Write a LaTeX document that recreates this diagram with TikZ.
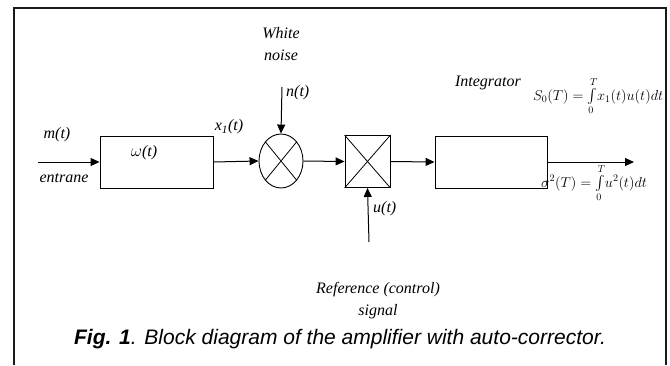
\documentclass[tikz,border=0pt]{standalone}
\usepackage{fontspec}
\setmainfont{Liberation Serif}
\newfontfamily\capfont{Liberation Sans}
\usepackage{tikz}
\usetikzlibrary{positioning, shapes.geometric, arrows.meta, calc}
\usepackage{amsmath}
\usepackage{xcolor}
\definecolor{lnblack}{HTML}{000000}
\definecolor{frgray}{HTML}{1A1A1A}

\tikzset{
  blockbox/.style={draw=lnblack, line width=0.9pt, minimum width=113pt, minimum height=52pt, inner sep=0pt},
  mixbox/.style={draw=lnblack, line width=0.9pt, minimum width=45pt, minimum height=52pt, inner sep=0pt},
  sig/.style={draw=lnblack, line width=1pt, -{Triangle[length=9pt, width=8pt]}},
  lbl/.style={font=\fontsize{16}{22}\selectfont\itshape, inner sep=0pt, align=center},
  eqn/.style={font=\fontsize{14}{16}\selectfont, inner sep=0pt}
}

\begin{document}
\begin{tikzpicture}[x=1pt, y=-1pt]
    \useasboundingbox (0,0) rectangle (670,365);
    % frame
    \draw[frgray, line width=1.6pt] (14,365) -- (14,8) -- (666,8) -- (666,365);

    % blocks
    \node[blockbox] (omega) at (156.5,162) {};
    \node[blockbox, minimum width=112pt] (integ) at (491,162) {};
    \node[draw=lnblack, line width=0.9pt, ellipse, minimum width=44pt, minimum height=54pt, inner sep=0pt] (mix) at (281,161) {};
    \draw[line width=0.8pt] (mix.north east) -- (mix.south west) (mix.north west) -- (mix.south east);
    \node[mixbox] (mult) at (367.5,161.5) {};
    \draw[line width=0.8pt] (mult.north east) -- (mult.south west) (mult.north west) -- (mult.south east);

    % free ends
    \coordinate (in) at (38,162);
    \coordinate (nin) at (282,87);
    \coordinate (uin) at (369,242);
    \coordinate (out) at (634,162);

    % signals
    \draw[sig] (in) -- (omega.west);
    \draw[sig] (omega.east) -- (mix.west);
    \draw[sig] (mix.east) -- (mult.west);
    \draw[sig] (mult.east) -- (integ.west);
    \draw[sig] (integ.east) -- (out);
    \draw[sig] (nin) -- (mix.north);
    \draw[sig] (uin) -- (mult.south);

    % labels
    \node[lbl] (wn) at (281,44) {White\\noise};
    \node[lbl, anchor=west] (nt) at (286,93) {n(t)};
    \node[lbl] (mt) at (57,135) {m(t)};
    \node[lbl] (ent) at (64,178) {entrane};
    \node[lbl] (om) at (144,153) {$\omega$(t)};
    \node[lbl] (x1) at (229,127) {x\textsubscript{1}(t)};
    \node[lbl] (intl) at (488,83) {Integrator};
    \node[eqn, anchor=west] (s0) at (533,96) {$S_0(T)=\int\limits_0^T\! x_1(t)u(t)dt$};
    \node[eqn, anchor=west] (sig2) at (541,183) {$\sigma^2(T)=\int\limits_0^T\! u^2(t)dt$};
    \node[lbl, anchor=west] (ut) at (373,209) {u(t)};
    \node[lbl] (ref) at (378,301) {Reference (control)\\signal};
    \node[font=\fontsize{21}{25}\selectfont\capfont\itshape, inner sep=0pt] (cap) at (340,339)
          {\textbf{Fig. 1}. Block diagram of the amplifier with auto-corrector.};
\end{tikzpicture}
\end{document}
